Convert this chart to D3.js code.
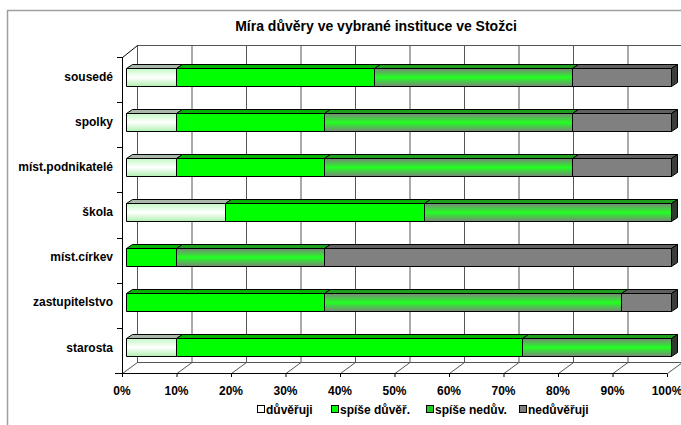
<!DOCTYPE html>
<html>
<head>
<meta charset="utf-8">
<script src="https://cdn.jsdelivr.net/npm/d3@7"></script>
<style>
   body { margin: 0; background: #fff; }
   text { font-family: Arial, "Liberation Sans", sans-serif; font-weight: bold; fill: #000; }
</style>
</head>
<body>
<script>
// data (percent)
const categories = ['sousedé', 'spolky', 'míst.podnikatelé', 'škola', 'míst.církev', 'zastupitelstvo', 'starosta'];
const seriesNames = ['důvěřuji', 'spíše důvěř.', 'spíše nedův.', 'nedůvěřuji'];
const duveruji    = [9.1, 9.1, 9.1, 18.2, 0, 0, 9.1];
const spiseDuver  = [36.4, 27.3, 27.3, 36.4, 9.1, 36.4, 63.6];
const spiseNeduv  = [36.4, 45.5, 45.5, 45.4, 27.3, 54.5, 27.3];
const neduveruji  = [18.1, 18.1, 18.1, 0, 63.6, 9.1, 0];
const xTicks = [0, 10, 20, 30, 40, 50, 60, 70, 80, 90, 100];

const series = [duveruji, spiseDuver, spiseNeduv, neduveruji];

const width = 681, height = 425;
const depthX = 15, depthY = -11; // hloubka 3D
const barOff = 4, barDx = 6, barDy = -4, barH = 18;

const svg = d3.select('body').append('svg')
   .attr('width', width)
   .attr('height', height);

// prechody barev
const defs = svg.append('defs');
function grad(id, stops) {
   const g = defs.append('linearGradient').attr('id', id)
      .attr('x1', 0).attr('y1', 0).attr('x2', 0).attr('y2', 1);
   stops.forEach(s => g.append('stop').attr('offset', s[0]).attr('stop-color', s[1]));
}
grad('gWhite', [[0, '#c4f8c4'], [0.5, '#ffffff'], [1, '#b0f0b0']]);
grad('gMix', [[0, '#7a867a'], [0.5, '#22ff22'], [1, '#7a867a']]);

const front = ['url(#gWhite)', '#00ff00', 'url(#gMix)', '#808080'];
const topC = ['#aab8aa', '#00b400', '#1ea01e', '#606060'];
const sideC = ['#889888', '#008800', '#2c3c2c', '#3c3c3c'];
const legendC = ['#ffffff', '#00ff00', '#22cc22', '#808080'];

// ramecek
svg.append('rect')
   .attr('x', 7.5).attr('y', 10.5)
   .attr('width', 700).attr('height', 430)
   .attr('fill', 'none').attr('stroke', '#a0a0a0').attr('stroke-width', 1.5);

svg.append('text')
   .attr('x', 376).attr('y', 31)
   .attr('text-anchor', 'middle')
   .style('font-size', '14px')
   .text('Míra důvěry ve vybrané instituce ve Stožci');

// meritka (predni rovina)
const x = d3.scaleLinear().domain([0, 100]).range([122, 667]);
const y = d3.scaleBand().domain(categories).range([57, 373]);

const grid = svg.append('g').attr('stroke', '#555').attr('fill', 'none');
// zadni stena
grid.selectAll('.v').data(xTicks).enter().append('line')
   .attr('x1', d => x(d) + depthX + 0.5).attr('x2', d => x(d) + depthX + 0.5)
   .attr('y1', 45.5).attr('y2', 373 + depthY + 0.5);
grid.append('line')
   .attr('x1', x(0) + depthX).attr('x2', x(100) + depthX)
   .attr('y1', 45.5).attr('y2', 45.5);
// podlaha
grid.append('line')
   .attr('x1', x(0) + depthX).attr('x2', x(100) + depthX)
   .attr('y1', 373 + depthY + 0.5).attr('y2', 373 + depthY + 0.5);
grid.selectAll('.d').data(xTicks).enter().append('line')
   .attr('x1', d => x(d) + 0.5).attr('y1', 373.5)
   .attr('x2', d => x(d) + depthX + 0.5).attr('y2', 373 + depthY + 0.5);

// osy
const axis = svg.append('g').attr('stroke', '#000').attr('fill', 'none');
axis.append('line').attr('x1', 115).attr('x2', x(100)).attr('y1', 373.5).attr('y2', 373.5);
axis.append('line').attr('x1', 122.5).attr('x2', 122.5).attr('y1', 57).attr('y2', 373.5);
axis.append('line').attr('x1', 122.5).attr('y1', 57.5).attr('x2', 122.5 + depthX).attr('y2', 45.5);
axis.selectAll('.t').data(categories).enter().append('line')
   .attr('x1', 117).attr('x2', 122.5)
   .attr('y1', d => Math.round(y(d)) + 0.5).attr('y2', d => Math.round(y(d)) + 0.5);
axis.selectAll('.xt').data(xTicks).enter().append('line')
   .attr('x1', d => x(d) + 0.5).attr('x2', d => x(d) + 0.5)
   .attr('y1', 373.5).attr('y2', 377);

// popisky os
svg.selectAll('.xl').data(xTicks).enter().append('text')
   .attr('x', d => x(d)).attr('y', 395)
   .attr('text-anchor', 'middle')
   .style('font-size', '12px')
   .text(d => d + '%');

svg.selectAll('.yl').data(categories).enter().append('text')
   .attr('x', 113)
   .attr('y', d => y(d) + y.bandwidth() / 2 - 3)
   .attr('dy', '0.35em')
   .attr('text-anchor', 'end')
   .style('font-size', '12px')
   .text(d => d);

// sloupce
const bars = svg.append('g').attr('stroke', '#000').attr('stroke-width', 1).attr('stroke-linejoin', 'round');
categories.forEach((c, ci) => {
   const yc = y(c) + y.bandwidth() / 2 - 3;
   const y0 = Math.round(yc - barH / 2) + 0.5, y1 = y0 + barH;
   let cum = 0;
   let last = -1;
   series.forEach((s, si) => { if (s[ci] > 0) last = si; });
   series.forEach((s, si) => {
      const v = s[ci];
      if (v <= 0) return;
      const xa = Math.round(x(cum)) + barOff + 0.5;
      cum += v;
      const xb = Math.round(x(Math.min(cum, 100))) + barOff + 0.5;
      // horni plocha
      bars.append('path')
         .attr('d', `M${xa},${y0}L${xa + barDx},${y0 + barDy}L${xb + barDx},${y0 + barDy}L${xb},${y0}Z`)
         .attr('fill', topC[si]);
      // predni plocha
      bars.append('rect')
         .attr('x', xa).attr('y', y0)
         .attr('width', xb - xa).attr('height', barH)
         .attr('fill', front[si]);
      // bocni plocha
      if (si === last) {
         bars.append('path')
            .attr('d', `M${xb},${y0}L${xb + barDx},${y0 + barDy}L${xb + barDx},${y1 + barDy}L${xb},${y1}Z`)
            .attr('fill', sideC[si]);
      }
   });
});

// legenda
const legX = [257, 331, 426, 519];
const leg = svg.append('g');
seriesNames.forEach((n, i) => {
   leg.append('rect')
      .attr('x', legX[i] + 0.5).attr('y', 405.5)
      .attr('width', 7).attr('height', 7)
      .attr('fill', legendC[i]).attr('stroke', '#000');
   leg.append('text')
      .attr('x', legX[i] + 9).attr('y', 414)
      .style('font-size', '12px')
      .text(n);
});
</script>
</body>
</html>
